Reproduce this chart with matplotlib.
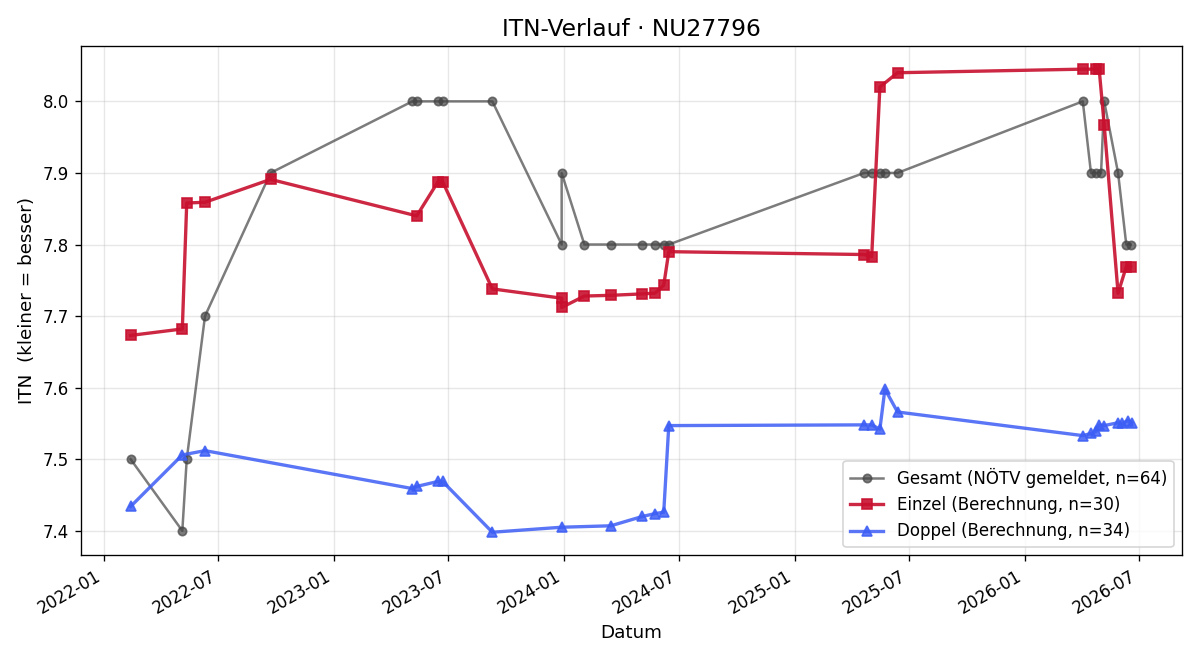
import pandas as pd
import matplotlib
matplotlib.use("Agg")
import matplotlib.pyplot as plt
import matplotlib.dates as mdates

# Gesamt (NÖTV gemeldet)
gesamt_dates = ['2022-02-12', '2022-05-05', '2022-05-12', '2022-06-10', '2022-09-22',
                '2023-05-05', '2023-05-12', '2023-06-15', '2023-06-22', '2023-09-09',
                '2023-12-28', '2023-12-28', '2024-02-02', '2024-03-15', '2024-05-04',
                '2024-05-24', '2024-06-07', '2024-06-15', '2025-04-21', '2025-05-03',
                '2025-05-16', '2025-05-24', '2025-06-13', '2026-04-03', '2026-04-16',
                '2026-04-24', '2026-05-02', '2026-05-07', '2026-05-29', '2026-06-11',
                '2026-06-18']
gesamt_vals = [7.5, 7.4, 7.5, 7.7, 7.9,
               8.0, 8.0, 8.0, 8.0, 8.0,
               7.8, 7.9, 7.8, 7.8, 7.8,
               7.8, 7.8, 7.8, 7.9, 7.9,
               7.9, 7.9, 7.9, 8.0, 7.9,
               7.9, 7.9, 8.0, 7.9, 7.8,
               7.8]

# Einzel (Berechnung)
einzel_dates = ['2022-02-12', '2022-05-05', '2022-05-12', '2022-06-10', '2022-09-22',
                '2023-05-12', '2023-06-15', '2023-06-22', '2023-09-09', '2023-12-28',
                '2023-12-28', '2024-02-02', '2024-03-15', '2024-05-04', '2024-05-24',
                '2024-06-07', '2024-06-15', '2025-04-21', '2025-05-03', '2025-05-16',
                '2025-06-13', '2026-04-03', '2026-04-24', '2026-04-29', '2026-05-07',
                '2026-05-29', '2026-06-11', '2026-06-18']
einzel_vals = [7.673, 7.682, 7.858, 7.859, 7.891,
               7.840, 7.888, 7.888, 7.738, 7.725,
               7.712, 7.728, 7.729, 7.731, 7.732,
               7.743, 7.790, 7.786, 7.783, 8.020,
               8.040, 8.045, 8.045, 8.045, 7.967,
               7.732, 7.769, 7.769]

# Doppel (Berechnung)
doppel_dates = ['2022-02-12', '2022-05-05', '2022-06-10', '2023-05-05', '2023-05-12',
                '2023-06-15', '2023-06-22', '2023-09-09', '2023-12-28', '2024-03-15',
                '2024-05-04', '2024-05-24', '2024-06-07', '2024-06-15', '2025-04-21',
                '2025-05-03', '2025-05-16', '2025-05-24', '2025-06-13', '2026-04-03',
                '2026-04-16', '2026-04-24', '2026-04-29', '2026-05-07', '2026-05-29',
                '2026-06-05', '2026-06-13', '2026-06-20']
doppel_vals = [7.434, 7.506, 7.512, 7.459, 7.462,
               7.469, 7.469, 7.398, 7.405, 7.407,
               7.420, 7.424, 7.426, 7.547, 7.548,
               7.548, 7.542, 7.598, 7.566, 7.533,
               7.536, 7.539, 7.548, 7.547, 7.551,
               7.550, 7.554, 7.551]

fig, ax = plt.subplots(figsize=(10, 5.5), dpi=120)

ax.plot(pd.to_datetime(gesamt_dates), gesamt_vals, marker='o', markersize=5,
        color='#444444', alpha=0.7, linewidth=1.5, label='Gesamt (NÖTV gemeldet, n=64)')
ax.plot(pd.to_datetime(einzel_dates), einzel_vals, marker='s', markersize=6.5,
        color='#c8102e', alpha=0.9, linewidth=2, label='Einzel (Berechnung, n=30)')
ax.plot(pd.to_datetime(doppel_dates), doppel_vals, marker='^', markersize=6.5,
        color='#3d5ef5', alpha=0.85, linewidth=2, label='Doppel (Berechnung, n=34)')

ax.set_title('ITN-Verlauf · NU27796', fontsize=14)
ax.set_xlabel('Datum', fontsize=11)
ax.set_ylabel('ITN  (kleiner = besser)', fontsize=11)
ax.grid(True, alpha=0.3)
ax.xaxis.set_major_locator(mdates.MonthLocator(bymonth=[1, 7]))
ax.xaxis.set_major_formatter(mdates.DateFormatter('%Y-%m'))
ax.legend(loc='lower right', fontsize=10)
fig.autofmt_xdate()

fig.tight_layout()
plt.savefig('out.png')
